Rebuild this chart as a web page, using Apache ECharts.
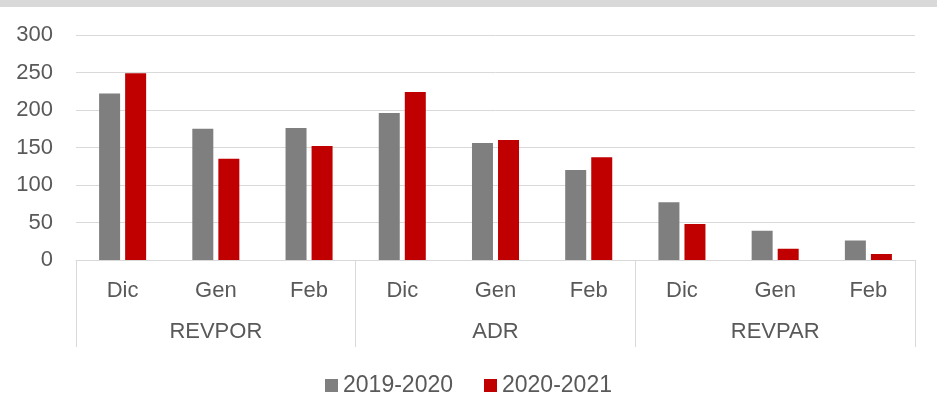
<!DOCTYPE html>
<html>
<head>
<meta charset="utf-8">
<script src="https://cdn.jsdelivr.net/npm/echarts@6/dist/echarts.min.js"></script>
<style>
  html, body { margin: 0; padding: 0; background: #fff; }
  #chart { width: 937px; height: 411px; }
</style>
</head>
<body>
<div id="chart"></div>
<script>
var months = ['Dic', 'Gen', 'Feb', 'Dic', 'Gen', 'Feb', 'Dic', 'Gen', 'Feb'];
var groups = ['REVPOR', 'ADR', 'REVPAR'];
var seriesNames = ['2019-2020', '2020-2021'];
var values1920 = [222, 175, 176, 196, 156, 120, 77, 39, 26];
var values2021 = [249, 135, 152, 224, 160, 137, 48, 15, 8];

var textColor = '#595959';
var lineColor = '#d9d9d9';
var font = 'Arial, "Liberation Sans", sans-serif';

var option = {
  animation: false,
  textStyle: { fontFamily: font },
  graphic: [{
    type: 'rect',
    shape: { x: 0, y: 0, width: 937, height: 7 },
    style: { fill: lineColor }
  }],
  grid: { left: 76, right: 22, top: 35, bottom: 151 },
  legend: {
    top: 369,
    left: 'center',
    icon: 'rect',
    itemWidth: 13,
    itemHeight: 13,
    itemGap: 31,
    textStyle: { fontSize: 23, color: textColor, fontFamily: font },
    data: seriesNames
  },
  xAxis: [
    {
      type: 'category',
      data: months,
      axisLine: { show: true, lineStyle: { color: lineColor, width: 1 } },
      axisTick: { show: false },
      axisLabel: { fontSize: 22, color: textColor, margin: 20, fontFamily: font }
    },
    {
      type: 'category',
      data: groups,
      position: 'bottom',
      axisLine: { show: false },
      axisTick: { show: true, length: 87, lineStyle: { color: lineColor, width: 1 } },
      axisLabel: { fontSize: 22, color: textColor, margin: 61, fontFamily: font },
      splitLine: { show: false }
    }
  ],
  yAxis: {
    type: 'value',
    min: 0,
    max: 300,
    interval: 50,
    axisLine: { show: false },
    axisTick: { show: false },
    axisLabel: { fontSize: 22, color: textColor, margin: 23, fontFamily: font },
    splitLine: { lineStyle: { color: lineColor, width: 1 } }
  },
  series: [
    {
      name: seriesNames[0],
      type: 'bar',
      xAxisIndex: 0,
      barWidth: 21,
      barGap: '24%',
      itemStyle: { color: '#7f7f7f' },
      data: values1920
    },
    {
      name: seriesNames[1],
      type: 'bar',
      xAxisIndex: 0,
      barWidth: 21,
      barGap: '24%',
      itemStyle: { color: '#c00000' },
      data: values2021
    }
  ]
};

echarts.init(document.getElementById('chart')).setOption(option);
</script>
</body>
</html>
